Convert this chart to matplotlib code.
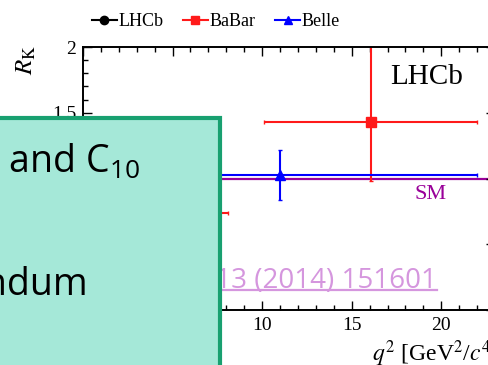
import matplotlib
matplotlib.use('Agg')
from matplotlib import pyplot as plt
from matplotlib.patches import Rectangle
from matplotlib.lines import Line2D
from matplotlib.ticker import MultipleLocator, FormatStrFormatter

# データ (R_K vs q^2)
lhcb_x, lhcb_y = [3.5], [0.745]
lhcb_xerr = [[2.5], [2.5]]
lhcb_yerr = [[0.074], [0.090]]

babar_x = [4.11, 16.06]
babar_y = [0.74, 1.43]
babar_xerr = [[4.01, 5.95], [4.01, 5.94]]
babar_yerr = [[0.31, 0.45], [0.40, 0.65]]

belle_x, belle_y = [11.0], [1.03]
belle_xerr = [[11.0], [11.0]]
belle_yerr = [[0.19], [0.19]]

sm_value = 1.0

serif = 'Liberation Serif'
plt.rcParams['font.family'] = [serif, 'DejaVu Serif']

W, H = 489, 365
fig = plt.figure(figsize=(W / 100, H / 100), dpi=100)

def fx(px):
    return px / W

def fy(py):
    return 1 - py / H

# 軸
ax = fig.add_axes([fx(83), fy(310), fx(495) - fx(83), fy(47) - fy(310)])
ax.set_xlim(0, 23)
ax.set_ylim(0, 2)
ax.xaxis.set_major_locator(MultipleLocator(5))
ax.xaxis.set_minor_locator(MultipleLocator(1))
ax.yaxis.set_major_locator(MultipleLocator(0.5))
ax.yaxis.set_minor_locator(MultipleLocator(0.1))
ax.yaxis.set_major_formatter(FormatStrFormatter('%g'))
ax.tick_params(which='both', direction='in', top=True, right=True, width=1)
ax.tick_params(which='major', length=6.5, labelsize=14, pad=5)
ax.tick_params(which='minor', length=3.6)
for s in ax.spines.values():
    s.set_linewidth(1.4)

ax.axhline(sm_value, color='#990099', lw=1.6, zorder=1)
ax.errorbar(lhcb_x, lhcb_y, xerr=lhcb_xerr, yerr=lhcb_yerr, fmt='o', color='black',
            ms=6, lw=1.5, capsize=1.5)
ax.errorbar(babar_x, babar_y, xerr=babar_xerr, yerr=babar_yerr, fmt='s', color='#ff1a1a',
            ms=7, lw=1.5, capsize=1.5)
ax.errorbar(belle_x, belle_y, xerr=belle_xerr, yerr=belle_yerr, fmt='^', color='#0000ff',
            ms=7, lw=1.5, capsize=1.5)

ax.text(19.4, 0.88, 'SM', color='#990099', fontsize=16, ha='center', va='center')
ax.text(19.2, 1.77, 'LHCb', color='black', fontsize=21, ha='center', va='center')

fig.text(fx(26), fy(60), r'$R_{\mathrm{K}}$', rotation=90, fontsize=18, ha='center', va='center',
         math_fontfamily='stix')
fig.text(fx(372), fy(361), r'$q^2$ [GeV$^2$/$c^4$]', fontsize=17,
         math_fontfamily='stix', ha='left', va='baseline')

# 凡例
handles = [
    Line2D([], [], color='black', marker='o', ms=6, lw=1.5),
    Line2D([], [], color='#ff1a1a', marker='s', ms=6, lw=1.5),
    Line2D([], [], color='#0000ff', marker='^', ms=6, lw=1.5),
]
fig.legend(handles, ['LHCb', 'BaBar', 'Belle'], loc='center', bbox_to_anchor=(fx(216), fy(22)),
           ncol=3, frameon=False, prop={'size': 13}, handlelength=1.35,
           handletextpad=0.1, columnspacing=1.1)

# リンク文字
fig.text(fx(437), fy(288), 'PRL 113 (2014) 151601', color='#d596de', fontsize=20,
         family='Open Sans', ha='right', va='baseline', zorder=5)
fig.add_artist(Line2D([fx(0), fx(437)], [fy(290), fy(290)], color='#d596de', lw=1.6, zorder=5))

# 上に重なるボックス
box = Rectangle((fx(-20), fy(400)), fx(240), fy(118) - fy(400), facecolor='#a5e8d8',
                edgecolor='#18a070', lw=3, transform=fig.transFigure, zorder=10)
fig.add_artist(box)
plt.rcParams['mathtext.fontset'] = 'custom'
plt.rcParams['mathtext.rm'] = 'Open Sans'
plt.rcParams['mathtext.it'] = 'Open Sans:italic'
fig.text(fx(140), fy(173), r'C$_9$ and C$_{10}$', fontsize=27, family='Open Sans',
         math_fontfamily='custom', ha='right', va='baseline', color='black', zorder=11)
fig.text(fx(88), fy(295), 'Addendum', fontsize=27, family='Open Sans',
         ha='right', va='baseline', color='black', zorder=11)

fig.savefig('out.png', dpi=100)
plt.close()
